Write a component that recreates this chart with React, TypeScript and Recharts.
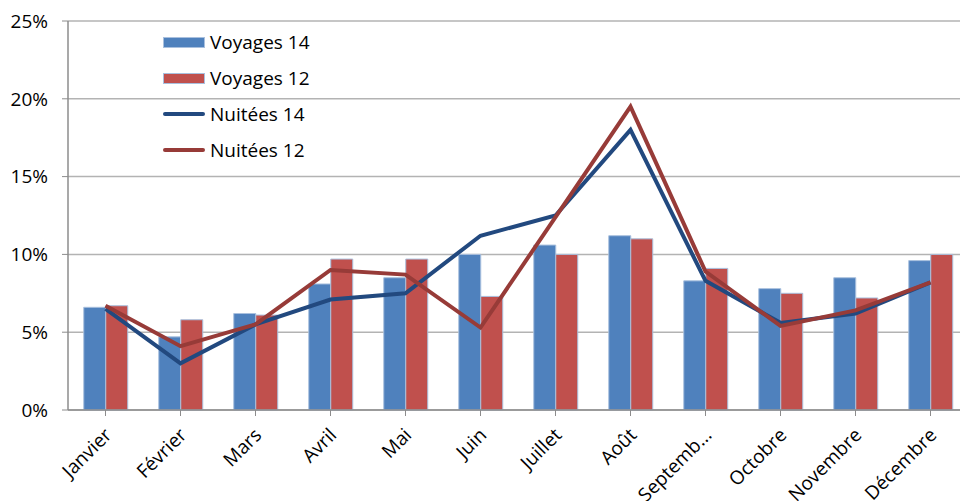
import React from "react";
import { ComposedChart, Bar, Line, XAxis, YAxis, CartesianGrid, Legend } from "recharts";

const months = ["Janvier", "Février", "Mars", "Avril", "Mai", "Juin", "Juillet", "Août", "Septemb...", "Octobre", "Novembre", "Décembre"];
const voyages14 = [6.6, 4.7, 6.2, 8.1, 8.5, 10.0, 10.6, 11.2, 8.3, 7.8, 8.5, 9.6];
const voyages12 = [6.7, 5.8, 6.1, 9.7, 9.7, 7.3, 10.0, 11.0, 9.1, 7.5, 7.2, 10.0];
const nuitees14 = [6.5, 3.0, 5.5, 7.1, 7.5, 11.2, 12.5, 18.0, 8.3, 5.6, 6.2, 8.2];
const nuitees12 = [6.7, 4.1, 5.5, 9.0, 8.7, 5.3, 12.4, 19.5, 8.9, 5.4, 6.4, 8.2];
const yTicks = [0, 5, 10, 15, 20, 25];

const data = months.map((m, i) => ({
  month: m,
  v14: voyages14[i],
  v12: voyages12[i],
  n14: nuitees14[i],
  n12: nuitees12[i],
}));

const FONT = "'Open Sans', sans-serif";
const BLUE = "#4F81BD";
const RED = "#C0504D";
const DBLUE = "#22497F";
const DRED = "#973B38";

const legendItems = [
  { label: "Voyages 14", color: BLUE, type: "bar" },
  { label: "Voyages 12", color: RED, type: "bar" },
  { label: "Nuitées 14", color: DBLUE, type: "line" },
  { label: "Nuitées 12", color: DRED, type: "line" },
];

const LegendContent = () => (
  <div style={{ fontFamily: FONT, fontSize: 19, color: "#000", lineHeight: "36px" }}>
    {legendItems.map((it) => (
      <div key={it.label} style={{ display: "flex", alignItems: "center", height: 36 }}>
        <div style={{ width: 42, height: 12, display: "flex", alignItems: "center" }}>
          {it.type === "bar" ? (
            <div style={{ width: 42, height: 11, background: it.color, border: "1px solid #A9C0DE", boxSizing: "border-box" }} />
          ) : (
            <div style={{ width: 42, height: 4, background: it.color, borderRadius: 2 }} />
          )}
        </div>
        <span style={{ marginLeft: 5 }}>{it.label}</span>
      </div>
    ))}
  </div>
);

const XTick = (props: any) => {
  const { x, y, payload } = props;
  return (
    <g transform={`translate(${x + 3},${y + 14})`}>
      <text
        x={0}
        y={0}
        dy={6}
        textAnchor="end"
        transform="rotate(-45)"
        fill="#000"
        fontFamily={FONT}
        fontSize={19}
      >
        {payload.value}
      </text>
    </g>
  );
};

export default function App() {
  return (
    <div style={{ position: "fixed", left: 0, top: 0, width: 960, height: 501, overflow: "hidden", background: "#fff" }}>
      <ComposedChart
        width={980}
        height={501}
        data={data}
        margin={{ top: 21, right: 12, bottom: 0, left: 0 }}
        barCategoryGap="21%"
        barGap={0}
      >
        <CartesianGrid vertical={false} stroke="#B3B3B3" strokeWidth={1.5} />
        <XAxis
          dataKey="month"
          interval={0}
          height={91}
          tick={<XTick />}
          tickLine={{ stroke: "#8C8C8C" }}
          axisLine={{ stroke: "#8C8C8C", strokeWidth: 1.5 }}
          tickSize={6}
        />
        <YAxis
          width={68}
          domain={[0, 25]}
          ticks={yTicks}
          interval={0}
          tickFormatter={(v: number) => `${v}%`}
          tick={{ fill: "#000", fontFamily: FONT, fontSize: 19 }}
          tickLine={{ stroke: "#8C8C8C" }}
          axisLine={{ stroke: "#8C8C8C", strokeWidth: 1.5 }}
          tickSize={6}
          tickMargin={14}
        />
        <Legend
          layout="vertical"
          verticalAlign="middle"
          align="center"
          content={<LegendContent />}
          wrapperStyle={{ position: "absolute", left: 163, top: 24, width: 200, height: 144 }}
        />
        <Bar dataKey="v14" name="Voyages 14" fill={BLUE} stroke="#A9C0DE" strokeWidth={1} isAnimationActive={false} />
        <Bar dataKey="v12" name="Voyages 12" fill={RED} stroke="#A9C0DE" strokeWidth={1} isAnimationActive={false} />
        <Line dataKey="n14" name="Nuitées 14" stroke={DBLUE} strokeWidth={4} dot={false} activeDot={false} isAnimationActive={false} strokeLinejoin="miter" />
        <Line dataKey="n12" name="Nuitées 12" stroke={DRED} strokeWidth={4} dot={false} activeDot={false} isAnimationActive={false} strokeLinejoin="miter" />
      </ComposedChart>
    </div>
  );
}
